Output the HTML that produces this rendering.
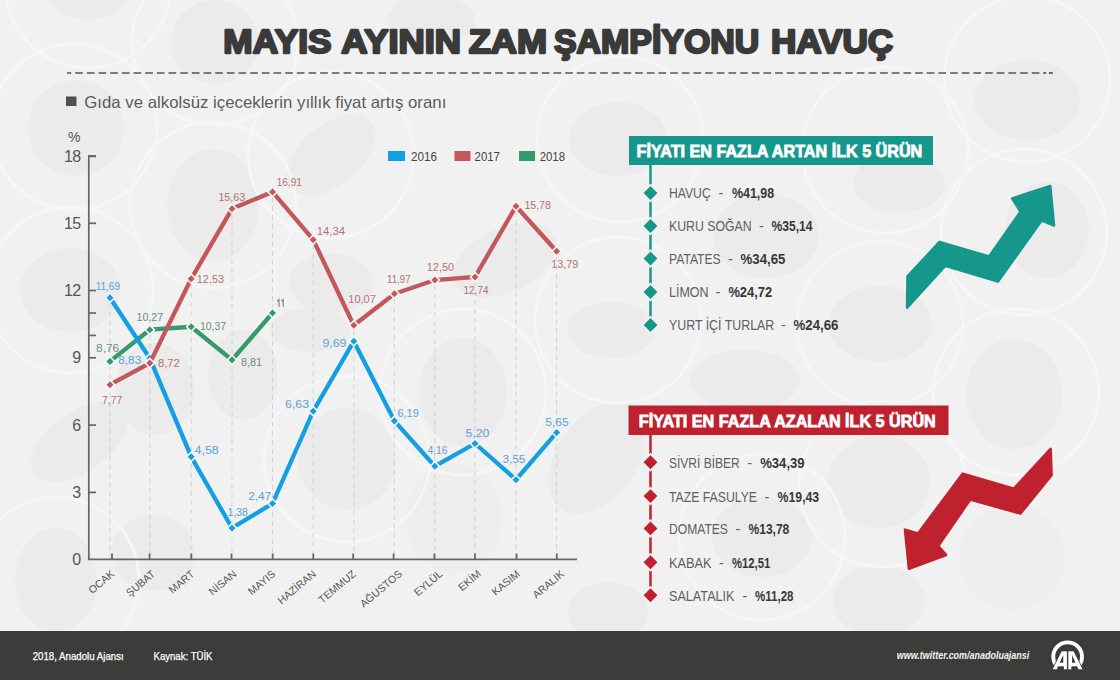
<!DOCTYPE html>
<html><head><meta charset="utf-8"><style>
html,body{margin:0;padding:0;}
body{width:1120px;height:680px;overflow:hidden;background:#f1f1f1;font-family:"Liberation Sans",sans-serif;}
svg{display:block;font-family:"Liberation Sans",sans-serif;}
</style></head><body>
<svg width="1120" height="680" viewBox="0 0 1120 680">
<rect width="1120" height="680" fill="#f1f1f1"/>
<g id="bg"><g fill="#ebebeb"><ellipse cx="88" cy="-15" rx="42" ry="35"/><ellipse cx="215" cy="42" rx="44" ry="42"/><ellipse cx="76" cy="128" rx="48" ry="48"/><ellipse cx="213" cy="205" rx="46" ry="56"/><ellipse cx="70" cy="290" rx="50" ry="42"/><ellipse cx="331" cy="155" rx="52" ry="30" transform="rotate(-40 331 155)"/><ellipse cx="505" cy="260" rx="55" ry="32" transform="rotate(-25 505 260)"/><ellipse cx="331" cy="283" rx="42" ry="30"/><ellipse cx="431" cy="20" rx="44" ry="25"/><ellipse cx="618" cy="139" rx="49" ry="37"/><ellipse cx="766" cy="236" rx="53" ry="42"/><ellipse cx="611" cy="330" rx="44" ry="28"/><ellipse cx="745" cy="380" rx="55" ry="30"/><ellipse cx="597" cy="458" rx="40" ry="62" transform="rotate(35 597 458)"/><ellipse cx="762" cy="537" rx="50" ry="40"/><ellipse cx="608" cy="612" rx="40" ry="30"/><ellipse cx="1027" cy="100" rx="53" ry="40"/><ellipse cx="899" cy="183" rx="46" ry="30"/><ellipse cx="1047" cy="230" rx="42" ry="48"/><ellipse cx="1014" cy="394" rx="48" ry="55"/><ellipse cx="879" cy="482" rx="51" ry="46"/><ellipse cx="880" cy="324" rx="52" ry="38"/><ellipse cx="879" cy="601" rx="46" ry="36"/><ellipse cx="463" cy="392" rx="44" ry="54"/><ellipse cx="347" cy="459" rx="49" ry="51"/><ellipse cx="310" cy="330" rx="40" ry="22"/><ellipse cx="56" cy="580" rx="41" ry="52"/><ellipse cx="79" cy="442" rx="55" ry="30" transform="rotate(-35 79 442)"/><ellipse cx="155" cy="389" rx="40" ry="46"/><ellipse cx="243" cy="375" rx="35" ry="45"/><ellipse cx="153" cy="553" rx="42" ry="38"/></g><g fill="#eeeeee"><ellipse cx="1012" cy="557" rx="53" ry="53"/><ellipse cx="454" cy="519" rx="48" ry="55"/></g><g fill="none" stroke="#f6f6f6" stroke-width="3"><circle cx="74" cy="127" r="83"/><circle cx="215" cy="42" r="83"/><circle cx="213" cy="205" r="83"/><circle cx="620" cy="139" r="83"/><circle cx="1027" cy="79" r="83"/><circle cx="885" cy="150" r="83"/><circle cx="1024" cy="232" r="83"/><circle cx="1016" cy="392" r="83"/><circle cx="882" cy="484" r="83"/><circle cx="463" cy="392" r="83"/><circle cx="347" cy="459" r="83"/><circle cx="70" cy="290" r="83"/><circle cx="880" cy="324" r="83"/><circle cx="618" cy="320" r="83"/><circle cx="762" cy="537" r="83"/><circle cx="56" cy="580" r="83"/><circle cx="88" cy="-15" r="83"/><circle cx="331" cy="155" r="83"/></g></g>
<g font-size="34" font-weight="bold" fill="#3a3a3a" stroke="#3a3a3a" stroke-width="2.3" stroke-linejoin="round"><text x="223.3" y="52.6" textLength="108.3" lengthAdjust="spacingAndGlyphs">MAYIS</text><text x="341.3" y="52.6" textLength="119.7" lengthAdjust="spacingAndGlyphs">AYININ</text><text x="468.8" y="52.6" textLength="78.2" lengthAdjust="spacingAndGlyphs">ZAM</text><text x="554" y="52.6" textLength="205.2" lengthAdjust="spacingAndGlyphs">ŞAMPİYONU</text><text x="771" y="52.6" textLength="122.2" lengthAdjust="spacingAndGlyphs">HAVUÇ</text></g>
<line x1="67" y1="73" x2="1039.5" y2="73" stroke="#555" stroke-width="1.7" stroke-dasharray="7.7 3.965" stroke-dashoffset="3.465"/><rect x="1043.3" y="72.15" width="2.8" height="1.7" fill="#555"/><rect x="1048.8" y="72.15" width="4.1" height="1.7" fill="#555"/>
<rect x="66" y="96.5" width="10.5" height="9.5" fill="#505050"/>
<text x="84.3" y="107.7" font-size="16.5" fill="#5c5c5c" textLength="362" lengthAdjust="spacingAndGlyphs">Gıda ve alkolsüz içeceklerin yıllık fiyat artış oranı</text>
<line x1="110" y1="302.7" x2="110" y2="559" stroke="#d2d2d2" stroke-width="1" stroke-dasharray="5 4"/>
<line x1="149.8" y1="334.7" x2="149.8" y2="559" stroke="#d2d2d2" stroke-width="1" stroke-dasharray="5 4"/>
<line x1="191.2" y1="283.8" x2="191.2" y2="559" stroke="#d2d2d2" stroke-width="1" stroke-dasharray="5 4"/>
<line x1="232" y1="213.8" x2="232" y2="559" stroke="#d2d2d2" stroke-width="1" stroke-dasharray="5 4"/>
<line x1="272.5" y1="196.9" x2="272.5" y2="559" stroke="#d2d2d2" stroke-width="1" stroke-dasharray="5 4"/>
<line x1="313.2" y1="244.7" x2="313.2" y2="559" stroke="#d2d2d2" stroke-width="1" stroke-dasharray="5 4"/>
<line x1="353.8" y1="330.3" x2="353.8" y2="559" stroke="#d2d2d2" stroke-width="1" stroke-dasharray="5 4"/>
<line x1="394.4" y1="298.8" x2="394.4" y2="559" stroke="#d2d2d2" stroke-width="1" stroke-dasharray="5 4"/>
<line x1="434.8" y1="285" x2="434.8" y2="559" stroke="#d2d2d2" stroke-width="1" stroke-dasharray="5 4"/>
<line x1="475" y1="282" x2="475" y2="559" stroke="#d2d2d2" stroke-width="1" stroke-dasharray="5 4"/>
<line x1="516" y1="211.2" x2="516" y2="559" stroke="#d2d2d2" stroke-width="1" stroke-dasharray="5 4"/>
<line x1="556.6" y1="256.2" x2="556.6" y2="559" stroke="#d2d2d2" stroke-width="1" stroke-dasharray="5 4"/>
<path d="M96,156.3 H88.8 V559.3 H577" fill="none" stroke="#666" stroke-width="1.7"/>
<line x1="88" y1="156.0" x2="96" y2="156.0" stroke="#666" stroke-width="1.7"/>
<line x1="88" y1="223.3" x2="96" y2="223.3" stroke="#666" stroke-width="1.7"/>
<line x1="88" y1="290.5" x2="96" y2="290.5" stroke="#666" stroke-width="1.7"/>
<line x1="88" y1="313.0" x2="96" y2="313.0" stroke="#666" stroke-width="1.7"/>
<line x1="88" y1="335.4" x2="96" y2="335.4" stroke="#666" stroke-width="1.7"/>
<line x1="88" y1="357.8" x2="96" y2="357.8" stroke="#666" stroke-width="1.7"/>
<line x1="88" y1="425.1" x2="96" y2="425.1" stroke="#666" stroke-width="1.7"/>
<line x1="88" y1="492.4" x2="96" y2="492.4" stroke="#666" stroke-width="1.7"/>
<line x1="112" y1="553.5" x2="112" y2="559" stroke="#666" stroke-width="1.8"/>
<line x1="149.6" y1="553.5" x2="149.6" y2="559" stroke="#666" stroke-width="1.8"/>
<line x1="191.3" y1="553.5" x2="191.3" y2="559" stroke="#666" stroke-width="1.8"/>
<line x1="231.5" y1="553.5" x2="231.5" y2="559" stroke="#666" stroke-width="1.8"/>
<line x1="272.7" y1="553.5" x2="272.7" y2="559" stroke="#666" stroke-width="1.8"/>
<line x1="313.3" y1="553.5" x2="313.3" y2="559" stroke="#666" stroke-width="1.8"/>
<line x1="353.2" y1="553.5" x2="353.2" y2="559" stroke="#666" stroke-width="1.8"/>
<line x1="393.6" y1="553.5" x2="393.6" y2="559" stroke="#666" stroke-width="1.8"/>
<line x1="434.4" y1="553.5" x2="434.4" y2="559" stroke="#666" stroke-width="1.8"/>
<line x1="475" y1="553.5" x2="475" y2="559" stroke="#666" stroke-width="1.8"/>
<line x1="516.6" y1="553.5" x2="516.6" y2="559" stroke="#666" stroke-width="1.8"/>
<line x1="556.8" y1="553.5" x2="556.8" y2="559" stroke="#666" stroke-width="1.8"/>
<polyline points="110,361.4 149.8,329.7 191.2,326.8 232,359.9 272.5,313" fill="none" stroke="#359a6a" stroke-width="4.3"/>
<rect x="-3.3" y="-3.3" width="6.6" height="6.6" fill="#359a6a" stroke="#f6f6f6" stroke-width="1.6" transform="translate(110,361.4) rotate(45)"/><rect x="-3.3" y="-3.3" width="6.6" height="6.6" fill="#359a6a" stroke="#f6f6f6" stroke-width="1.6" transform="translate(149.8,329.7) rotate(45)"/><rect x="-3.3" y="-3.3" width="6.6" height="6.6" fill="#359a6a" stroke="#f6f6f6" stroke-width="1.6" transform="translate(191.2,326.8) rotate(45)"/><rect x="-3.3" y="-3.3" width="6.6" height="6.6" fill="#359a6a" stroke="#f6f6f6" stroke-width="1.6" transform="translate(232,359.9) rotate(45)"/><rect x="-3.3" y="-3.3" width="6.6" height="6.6" fill="#359a6a" stroke="#f6f6f6" stroke-width="1.6" transform="translate(272.5,313) rotate(45)"/>
<polyline points="110,297.7 149.8,358.3 191.2,456.7 232,528.1 272.5,503.5 313.2,411.2 353.8,341.2 394.4,420.9 434.8,466.2 475,443.5 516,479.7 556.6,432.6" fill="none" stroke="#149fe3" stroke-width="4.3"/>
<rect x="-3.3" y="-3.3" width="6.6" height="6.6" fill="#149fe3" stroke="#f6f6f6" stroke-width="1.6" transform="translate(110,297.7) rotate(45)"/><rect x="-3.3" y="-3.3" width="6.6" height="6.6" fill="#149fe3" stroke="#f6f6f6" stroke-width="1.6" transform="translate(149.8,358.3) rotate(45)"/><rect x="-3.3" y="-3.3" width="6.6" height="6.6" fill="#149fe3" stroke="#f6f6f6" stroke-width="1.6" transform="translate(191.2,456.7) rotate(45)"/><rect x="-3.3" y="-3.3" width="6.6" height="6.6" fill="#149fe3" stroke="#f6f6f6" stroke-width="1.6" transform="translate(232,528.1) rotate(45)"/><rect x="-3.3" y="-3.3" width="6.6" height="6.6" fill="#149fe3" stroke="#f6f6f6" stroke-width="1.6" transform="translate(272.5,503.5) rotate(45)"/><rect x="-3.3" y="-3.3" width="6.6" height="6.6" fill="#149fe3" stroke="#f6f6f6" stroke-width="1.6" transform="translate(313.2,411.2) rotate(45)"/><rect x="-3.3" y="-3.3" width="6.6" height="6.6" fill="#149fe3" stroke="#f6f6f6" stroke-width="1.6" transform="translate(353.8,341.2) rotate(45)"/><rect x="-3.3" y="-3.3" width="6.6" height="6.6" fill="#149fe3" stroke="#f6f6f6" stroke-width="1.6" transform="translate(394.4,420.9) rotate(45)"/><rect x="-3.3" y="-3.3" width="6.6" height="6.6" fill="#149fe3" stroke="#f6f6f6" stroke-width="1.6" transform="translate(434.8,466.2) rotate(45)"/><rect x="-3.3" y="-3.3" width="6.6" height="6.6" fill="#149fe3" stroke="#f6f6f6" stroke-width="1.6" transform="translate(475,443.5) rotate(45)"/><rect x="-3.3" y="-3.3" width="6.6" height="6.6" fill="#149fe3" stroke="#f6f6f6" stroke-width="1.6" transform="translate(516,479.7) rotate(45)"/><rect x="-3.3" y="-3.3" width="6.6" height="6.6" fill="#149fe3" stroke="#f6f6f6" stroke-width="1.6" transform="translate(556.6,432.6) rotate(45)"/>
<polyline points="110,384.7 149.8,363.1 191.2,278.8 232,208.8 272.5,191.9 313.2,239.7 353.8,325.3 394.4,293.8 434.8,280 475,277 516,206.2 556.6,251.2" fill="none" stroke="#c4575b" stroke-width="4.3"/>
<rect x="-3.3" y="-3.3" width="6.6" height="6.6" fill="#c4575b" stroke="#f6f6f6" stroke-width="1.6" transform="translate(110,384.7) rotate(45)"/><rect x="-3.3" y="-3.3" width="6.6" height="6.6" fill="#c4575b" stroke="#f6f6f6" stroke-width="1.6" transform="translate(149.8,363.1) rotate(45)"/><rect x="-3.3" y="-3.3" width="6.6" height="6.6" fill="#c4575b" stroke="#f6f6f6" stroke-width="1.6" transform="translate(191.2,278.8) rotate(45)"/><rect x="-3.3" y="-3.3" width="6.6" height="6.6" fill="#c4575b" stroke="#f6f6f6" stroke-width="1.6" transform="translate(232,208.8) rotate(45)"/><rect x="-3.3" y="-3.3" width="6.6" height="6.6" fill="#c4575b" stroke="#f6f6f6" stroke-width="1.6" transform="translate(272.5,191.9) rotate(45)"/><rect x="-3.3" y="-3.3" width="6.6" height="6.6" fill="#c4575b" stroke="#f6f6f6" stroke-width="1.6" transform="translate(313.2,239.7) rotate(45)"/><rect x="-3.3" y="-3.3" width="6.6" height="6.6" fill="#c4575b" stroke="#f6f6f6" stroke-width="1.6" transform="translate(353.8,325.3) rotate(45)"/><rect x="-3.3" y="-3.3" width="6.6" height="6.6" fill="#c4575b" stroke="#f6f6f6" stroke-width="1.6" transform="translate(394.4,293.8) rotate(45)"/><rect x="-3.3" y="-3.3" width="6.6" height="6.6" fill="#c4575b" stroke="#f6f6f6" stroke-width="1.6" transform="translate(434.8,280) rotate(45)"/><rect x="-3.3" y="-3.3" width="6.6" height="6.6" fill="#c4575b" stroke="#f6f6f6" stroke-width="1.6" transform="translate(475,277) rotate(45)"/><rect x="-3.3" y="-3.3" width="6.6" height="6.6" fill="#c4575b" stroke="#f6f6f6" stroke-width="1.6" transform="translate(516,206.2) rotate(45)"/><rect x="-3.3" y="-3.3" width="6.6" height="6.6" fill="#c4575b" stroke="#f6f6f6" stroke-width="1.6" transform="translate(556.6,251.2) rotate(45)"/>
<g font-size="11.5"><text x="101.9" y="403.8" fill="#b27274" textLength="20.4" lengthAdjust="spacingAndGlyphs">7,77</text><text x="157.9" y="367.1" fill="#b27274" textLength="22.0" lengthAdjust="spacingAndGlyphs">8,72</text><text x="196.8" y="283.2" fill="#b27274" textLength="27.2" lengthAdjust="spacingAndGlyphs">12,53</text><text x="218.4" y="201.2" fill="#b27274" textLength="26.8" lengthAdjust="spacingAndGlyphs">15,63</text><text x="276.7" y="185.7" fill="#b27274" textLength="25.1" lengthAdjust="spacingAndGlyphs">16,91</text><text x="316.7" y="235.2" fill="#b27274" textLength="28.3" lengthAdjust="spacingAndGlyphs">14,34</text><text x="348.3" y="302.8" fill="#b27274" textLength="27.5" lengthAdjust="spacingAndGlyphs">10,07</text><text x="387" y="283" fill="#b27274" textLength="23.6" lengthAdjust="spacingAndGlyphs">11,97</text><text x="426.8" y="271.2" fill="#b27274" textLength="27.3" lengthAdjust="spacingAndGlyphs">12,50</text><text x="463.5" y="293.8" fill="#b27274" textLength="25.0" lengthAdjust="spacingAndGlyphs">12,74</text><text x="524.4" y="209.4" fill="#b27274" textLength="26.5" lengthAdjust="spacingAndGlyphs">15,78</text><text x="551.2" y="268.2" fill="#b27274" textLength="27.0" lengthAdjust="spacingAndGlyphs">13,79</text><text x="96.1" y="351.8" fill="#68907b" textLength="23.0" lengthAdjust="spacingAndGlyphs">8,76</text><text x="136.5" y="321.2" fill="#68907b" textLength="26.7" lengthAdjust="spacingAndGlyphs">10,27</text><text x="200" y="330.2" fill="#68907b" textLength="26.1" lengthAdjust="spacingAndGlyphs">10,37</text><text x="241" y="365.6" fill="#68907b" textLength="21.1" lengthAdjust="spacingAndGlyphs">8,81</text><text x="95.7" y="289.5" fill="#5aa2d4" textLength="24.3" lengthAdjust="spacingAndGlyphs">11,69</text><text x="118.3" y="363.7" fill="#5aa2d4" textLength="22.9" lengthAdjust="spacingAndGlyphs">8,83</text><text x="194.5" y="454.1" fill="#5aa2d4" textLength="24.3" lengthAdjust="spacingAndGlyphs">4,58</text><text x="227.6" y="516.2" fill="#5aa2d4" textLength="20.3" lengthAdjust="spacingAndGlyphs">1,38</text><text x="248.2" y="500.4" fill="#5aa2d4" textLength="23.0" lengthAdjust="spacingAndGlyphs">2,47</text><text x="285" y="408.2" fill="#5aa2d4" textLength="24.1" lengthAdjust="spacingAndGlyphs">6,63</text><text x="322.4" y="346.5" fill="#5aa2d4" textLength="24.1" lengthAdjust="spacingAndGlyphs">9,69</text><text x="397.4" y="416.5" fill="#5aa2d4" textLength="21.4" lengthAdjust="spacingAndGlyphs">6,19</text><text x="427.4" y="454.4" fill="#5aa2d4" textLength="20.0" lengthAdjust="spacingAndGlyphs">4,16</text><text x="465.6" y="437" fill="#5aa2d4" textLength="23.8" lengthAdjust="spacingAndGlyphs">5,20</text><text x="502.4" y="462.6" fill="#5aa2d4" textLength="22.9" lengthAdjust="spacingAndGlyphs">3,55</text><text x="545.3" y="425.9" fill="#5aa2d4" textLength="23.5" lengthAdjust="spacingAndGlyphs">5,65</text><path d="M277.2,301.2 L279,299.6 V306.7 M281.4,301.2 L283.2,299.6 V306.7" fill="none" stroke="#68907b" stroke-width="1.2"/></g>
<g font-size="16" fill="#555" letter-spacing="-0.6"><text x="80.5" y="565.3" text-anchor="end">0</text><text x="80.5" y="498.0" text-anchor="end">3</text><text x="80.5" y="430.7" text-anchor="end">6</text><text x="80.5" y="363.4" text-anchor="end">9</text><text x="80.5" y="296.1" text-anchor="end">12</text><text x="80.5" y="228.9" text-anchor="end">15</text><text x="80.5" y="161.6" text-anchor="end">18</text><text x="80.5" y="141.8" text-anchor="end" font-size="14" letter-spacing="0">%</text></g>
<g id="months" font-size="10.5" fill="#555"><text transform="translate(115.0,575) rotate(-40)" text-anchor="end">OCAK</text><text transform="translate(156.0,575) rotate(-40)" text-anchor="end">ŞUBAT</text><text transform="translate(195.20000000000002,575) rotate(-40)" text-anchor="end">MART</text><text transform="translate(237.2,575) rotate(-40)" text-anchor="end">NİSAN</text><text transform="translate(276.2,575) rotate(-40)" text-anchor="end">MAYIS</text><text transform="translate(316.8,575) rotate(-40)" text-anchor="end">HAZİRAN</text><text transform="translate(356.7,575) rotate(-40)" text-anchor="end">TEMMUZ</text><text transform="translate(402.90000000000003,575) rotate(-40)" text-anchor="end">AĞUSTOS</text><text transform="translate(443.29999999999995,575) rotate(-40)" text-anchor="end">EYLÜL</text><text transform="translate(481.6,575) rotate(-40)" text-anchor="end">EKİM</text><text transform="translate(520.6,575) rotate(-40)" text-anchor="end">KASIM</text><text transform="translate(564.9,575) rotate(-40)" text-anchor="end">ARALIK</text></g>
<rect x="388" y="151" width="17" height="10" fill="#149fe3"/><rect x="454.5" y="151" width="16" height="10" fill="#c4575b"/><rect x="519" y="151" width="16" height="10" fill="#359a6a"/>
<g font-size="12.5" fill="#444"><text x="411" y="161" textLength="26" lengthAdjust="spacingAndGlyphs">2016</text><text x="474.6" y="161" textLength="25.2" lengthAdjust="spacingAndGlyphs">2017</text><text x="539.7" y="161" textLength="25.3" lengthAdjust="spacingAndGlyphs">2018</text></g>
<rect x="629" y="136" width="304" height="29" fill="#16978b"/><text x="636.6" y="157" fill="#fff" stroke="#fff" stroke-width="0.8" font-weight="bold" font-size="17" textLength="285.7" lengthAdjust="spacingAndGlyphs">FİYATI EN FAZLA ARTAN İLK 5 ÜRÜN</text><g font-size="14.5"><line x1="650.5" y1="165" x2="650.5" y2="325" stroke="#16978b" stroke-width="2.5"/><rect x="-5.8" y="-5.8" width="11.6" height="11.6" fill="#16978b" stroke="#f1f1f1" stroke-width="1.8" transform="translate(650.5,193) rotate(45)"/><text x="669" y="198.4" fill="#606060" textLength="41.7" lengthAdjust="spacingAndGlyphs">HAVUÇ</text><text x="721" y="198.4" fill="#606060" text-anchor="middle">-</text><text x="731.9" y="198.4" fill="#383838" font-weight="bold" textLength="42.3" lengthAdjust="spacingAndGlyphs">%41,98</text><rect x="-5.8" y="-5.8" width="11.6" height="11.6" fill="#16978b" stroke="#f1f1f1" stroke-width="1.8" transform="translate(650.5,226) rotate(45)"/><text x="669" y="231.4" fill="#606060" textLength="82.7" lengthAdjust="spacingAndGlyphs">KURU SOĞAN</text><text x="761.5" y="231.4" fill="#606060" text-anchor="middle">-</text><text x="771.5" y="231.4" fill="#383838" font-weight="bold" textLength="41.0" lengthAdjust="spacingAndGlyphs">%35,14</text><rect x="-5.8" y="-5.8" width="11.6" height="11.6" fill="#16978b" stroke="#f1f1f1" stroke-width="1.8" transform="translate(650.5,258.5) rotate(45)"/><text x="669" y="263.9" fill="#606060" textLength="51.7" lengthAdjust="spacingAndGlyphs">PATATES</text><text x="730.5" y="263.9" fill="#606060" text-anchor="middle">-</text><text x="740.6" y="263.9" fill="#383838" font-weight="bold" textLength="44.7" lengthAdjust="spacingAndGlyphs">%34,65</text><rect x="-5.8" y="-5.8" width="11.6" height="11.6" fill="#16978b" stroke="#f1f1f1" stroke-width="1.8" transform="translate(650.5,292) rotate(45)"/><text x="669" y="297.4" fill="#606060" textLength="39.6" lengthAdjust="spacingAndGlyphs">LİMON</text><text x="718" y="297.4" fill="#606060" text-anchor="middle">-</text><text x="728.4" y="297.4" fill="#383838" font-weight="bold" textLength="43.7" lengthAdjust="spacingAndGlyphs">%24,72</text><rect x="-5.8" y="-5.8" width="11.6" height="11.6" fill="#16978b" stroke="#f1f1f1" stroke-width="1.8" transform="translate(650.5,325) rotate(45)"/><text x="669" y="330.4" fill="#606060" textLength="105.2" lengthAdjust="spacingAndGlyphs">YURT İÇİ TURLAR</text><text x="783.4" y="330.4" fill="#606060" text-anchor="middle">-</text><text x="793.5" y="330.4" fill="#383838" font-weight="bold" textLength="45.0" lengthAdjust="spacingAndGlyphs">%24,66</text></g><rect x="628.5" y="405.5" width="320" height="29.5" fill="#c0212f"/><text x="638.8" y="427" fill="#fff" stroke="#fff" stroke-width="0.8" font-weight="bold" font-size="17" textLength="297" lengthAdjust="spacingAndGlyphs">FİYATI EN FAZLA AZALAN İLK 5 ÜRÜN</text><g font-size="14.5"><line x1="650.5" y1="435" x2="650.5" y2="595.3" stroke="#c0212f" stroke-width="2.5"/><rect x="-5.8" y="-5.8" width="11.6" height="11.6" fill="#c0212f" stroke="#f1f1f1" stroke-width="1.8" transform="translate(650.5,462.3) rotate(45)"/><text x="669" y="467.7" fill="#606060" textLength="70.8" lengthAdjust="spacingAndGlyphs">SİVRİ BİBER</text><text x="749.6" y="467.7" fill="#606060" text-anchor="middle">-</text><text x="760.2" y="467.7" fill="#383838" font-weight="bold" textLength="44.4" lengthAdjust="spacingAndGlyphs">%34,39</text><rect x="-5.8" y="-5.8" width="11.6" height="11.6" fill="#c0212f" stroke="#f1f1f1" stroke-width="1.8" transform="translate(650.5,496.1) rotate(45)"/><text x="669" y="501.5" fill="#606060" textLength="88.0" lengthAdjust="spacingAndGlyphs">TAZE FASULYE</text><text x="767" y="501.5" fill="#606060" text-anchor="middle">-</text><text x="777.6" y="501.5" fill="#383838" font-weight="bold" textLength="41.6" lengthAdjust="spacingAndGlyphs">%19,43</text><rect x="-5.8" y="-5.8" width="11.6" height="11.6" fill="#c0212f" stroke="#f1f1f1" stroke-width="1.8" transform="translate(650.5,528.4) rotate(45)"/><text x="669" y="533.8" fill="#606060" textLength="58.9" lengthAdjust="spacingAndGlyphs">DOMATES</text><text x="737.9" y="533.8" fill="#606060" text-anchor="middle">-</text><text x="748.5" y="533.8" fill="#383838" font-weight="bold" textLength="40.8" lengthAdjust="spacingAndGlyphs">%13,78</text><rect x="-5.8" y="-5.8" width="11.6" height="11.6" fill="#c0212f" stroke="#f1f1f1" stroke-width="1.8" transform="translate(650.5,562.3) rotate(45)"/><text x="669" y="567.6999999999999" fill="#606060" textLength="42.5" lengthAdjust="spacingAndGlyphs">KABAK</text><text x="721.3" y="567.6999999999999" fill="#606060" text-anchor="middle">-</text><text x="731.9" y="567.6999999999999" fill="#383838" font-weight="bold" textLength="38.3" lengthAdjust="spacingAndGlyphs">%12,51</text><rect x="-5.8" y="-5.8" width="11.6" height="11.6" fill="#c0212f" stroke="#f1f1f1" stroke-width="1.8" transform="translate(650.5,595.3) rotate(45)"/><text x="669" y="600.6999999999999" fill="#606060" textLength="65.5" lengthAdjust="spacingAndGlyphs">SALATALIK</text><text x="745" y="600.6999999999999" fill="#606060" text-anchor="middle">-</text><text x="755.1" y="600.6999999999999" fill="#383838" font-weight="bold" textLength="38.4" lengthAdjust="spacingAndGlyphs">%11,28</text></g><polygon points="906.56,275.51 906.53,275.55 906.43,275.68 906.37,275.77 906.31,275.89 906.27,275.99 906.23,276.11 906.21,276.22 906.20,276.37 906.19,276.43 905.84,307.56 905.84,307.62 905.86,307.79 905.88,307.91 905.92,308.04 905.97,308.15 906.03,308.28 906.10,308.38 906.19,308.49 906.27,308.57 906.38,308.66 906.48,308.72 906.61,308.79 906.72,308.83 906.85,308.87 906.97,308.89 907.11,308.90 907.23,308.90 907.37,308.88 907.49,308.85 907.62,308.81 907.73,308.76 907.85,308.69 907.95,308.62 908.08,308.50 908.12,308.46 945.19,267.86 945.36,267.71 945.55,267.59 945.76,267.51 945.98,267.47 946.20,267.47 946.42,267.52 997.58,282.82 997.64,282.84 997.81,282.87 997.94,282.88 998.08,282.88 998.20,282.86 998.34,282.83 998.46,282.79 998.59,282.73 998.70,282.67 998.81,282.58 998.90,282.50 999.02,282.37 999.06,282.32 1041.55,222.77 1041.70,222.60 1041.88,222.46 1042.08,222.36 1042.30,222.29 1042.53,222.27 1042.76,222.29 1042.98,222.36 1053.48,226.67 1053.54,226.69 1053.71,226.74 1053.83,226.76 1053.97,226.77 1054.09,226.77 1054.23,226.75 1054.35,226.73 1054.49,226.68 1054.60,226.63 1054.72,226.56 1054.82,226.48 1054.93,226.39 1055.01,226.29 1055.09,226.18 1055.15,226.07 1055.21,225.94 1055.25,225.82 1055.28,225.68 1055.29,225.56 1055.30,225.39 1055.29,225.33 1051.56,185.94 1051.55,185.89 1051.52,185.72 1051.48,185.61 1051.43,185.48 1051.37,185.37 1051.29,185.26 1051.22,185.17 1051.12,185.07 1051.03,184.99 1050.91,184.92 1050.81,184.86 1050.68,184.81 1050.56,184.78 1050.43,184.75 1050.31,184.74 1050.17,184.75 1050.05,184.76 1049.89,184.80 1049.83,184.81 1011.82,197.17 1011.76,197.20 1011.60,197.27 1011.50,197.32 1011.38,197.41 1011.29,197.49 1011.20,197.59 1011.12,197.68 1011.05,197.80 1011.00,197.91 1010.95,198.05 1010.92,198.16 1010.90,198.30 1010.89,198.42 1010.90,198.56 1010.92,198.68 1010.96,198.82 1011.00,198.93 1011.07,199.09 1011.10,199.14 1018.58,211.02 1018.68,211.23 1018.74,211.46 1018.76,211.69 1018.73,211.93 1018.66,212.15 1018.54,212.35 989.09,254.20 988.93,254.39 988.73,254.54 988.51,254.64 988.27,254.70 988.02,254.70 987.78,254.66 939.90,240.73 939.84,240.72 939.69,240.69 939.58,240.68 939.45,240.68 939.34,240.69 939.21,240.71 939.11,240.74 938.99,240.78 938.89,240.83 938.78,240.90 938.69,240.96 938.57,241.07 938.54,241.11 906.56,275.51" fill="#16978b"/><polygon points="917.91,531.42 917.74,531.60 917.54,531.75 917.32,531.85 917.08,531.90 916.83,531.90 916.59,531.85 905.40,528.39 905.35,528.37 905.18,528.34 905.06,528.33 904.93,528.33 904.81,528.34 904.67,528.37 904.56,528.40 904.43,528.45 904.33,528.51 904.22,528.58 904.13,528.66 904.03,528.75 903.95,528.85 903.88,528.96 903.82,529.06 903.77,529.19 903.73,529.30 903.71,529.44 903.70,529.56 903.70,529.72 903.70,529.78 907.63,568.80 907.64,568.86 907.67,569.03 907.71,569.14 907.76,569.27 907.82,569.38 907.90,569.49 907.98,569.59 908.08,569.68 908.18,569.76 908.30,569.83 908.41,569.89 908.54,569.93 908.66,569.96 908.80,569.99 908.92,569.99 909.06,569.99 909.18,569.97 909.35,569.92 909.41,569.91 946.49,556.17 946.55,556.15 946.69,556.07 946.79,556.01 946.90,555.93 946.99,555.85 947.08,555.75 947.15,555.66 947.21,555.54 947.26,555.44 947.31,555.31 947.34,555.20 947.36,555.07 947.36,554.95 947.36,554.81 947.34,554.70 947.31,554.57 947.27,554.46 947.21,554.34 947.16,554.24 947.06,554.10 947.02,554.06 940.42,546.60 940.29,546.42 940.19,546.21 940.14,545.99 940.12,545.77 940.15,545.54 940.22,545.33 940.33,545.13 970.22,501.80 970.38,501.62 970.57,501.46 970.79,501.36 971.03,501.30 971.28,501.29 971.52,501.33 1020.05,514.76 1020.11,514.78 1020.27,514.81 1020.38,514.81 1020.52,514.81 1020.63,514.80 1020.77,514.77 1020.88,514.73 1021.00,514.68 1021.10,514.63 1021.21,514.55 1021.30,514.48 1021.42,514.36 1021.45,514.32 1052.58,475.90 1052.61,475.86 1052.69,475.73 1052.74,475.64 1052.79,475.52 1052.83,475.42 1052.86,475.30 1052.87,475.19 1052.88,475.04 1052.88,474.99 1051.92,448.88 1051.91,448.82 1051.89,448.66 1051.86,448.54 1051.82,448.41 1051.77,448.30 1051.70,448.19 1051.63,448.09 1051.54,447.99 1051.45,447.91 1051.34,447.83 1051.24,447.76 1051.12,447.70 1051.01,447.66 1050.88,447.63 1050.76,447.61 1050.63,447.60 1050.51,447.61 1050.37,447.63 1050.26,447.65 1050.13,447.70 1050.02,447.75 1049.90,447.82 1049.81,447.89 1049.68,448.00 1049.64,448.04 1013.90,486.75 1013.74,486.90 1013.55,487.02 1013.34,487.10 1013.13,487.13 1012.90,487.13 1012.69,487.09 963.09,472.56 963.04,472.55 962.87,472.52 962.75,472.51 962.61,472.51 962.49,472.52 962.35,472.55 962.23,472.59 962.11,472.65 962.00,472.71 961.89,472.79 961.80,472.87 961.68,473.00 961.64,473.05 917.91,531.42" fill="#c0212f"/>
<rect x="0" y="631" width="1120" height="49" fill="#3c3c3a"/>
<g font-size="11" fill="#fff" stroke="#fff" stroke-width="0.25">
<text x="32.7" y="659.8" textLength="91" lengthAdjust="spacingAndGlyphs">2018, Anadolu Ajansı</text>
<text x="153.5" y="659.8" textLength="59" lengthAdjust="spacingAndGlyphs">Kaynak: TÜİK</text>
<text x="896.7" y="659" font-style="italic" font-weight="bold" stroke-width="0" fill="#f4f4f4" textLength="132.6" lengthAdjust="spacingAndGlyphs">www.twitter.com/anadoluajansi</text>
</g>
<g transform="translate(1040,635) scale(0.0588)" fill="#fff">
<path d="M 269 510 A 245 245 0 1 1 671 510" fill="none" stroke="#fff" stroke-width="65"/>
<polygon points="205,590 365,270 465,270 465,590 400,590 400,540 310,540 290,590" stroke="#3c3c3a" stroke-width="14"/>
<polygon points="735,590 575,270 475,270 475,590 540,590 540,540 630,540 650,590" stroke="#3c3c3a" stroke-width="14"/>
<polygon points="335,470 395,340 395,470" fill="#3c3c3a"/>
<polygon points="605,470 545,340 545,470" fill="#3c3c3a"/>
</g>
</svg>
</body></html>
